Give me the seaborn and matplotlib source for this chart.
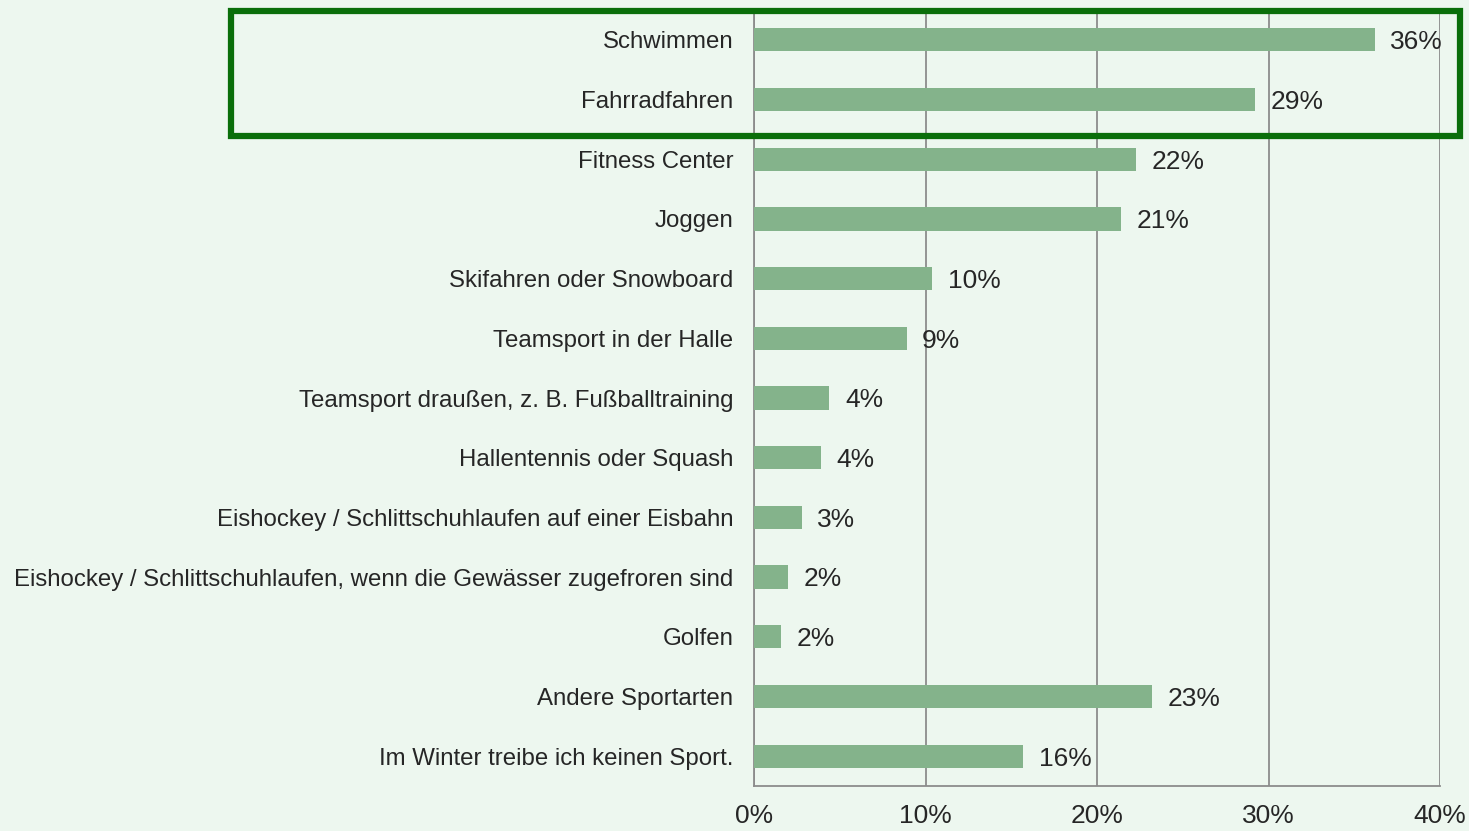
import numpy as np
import pandas as pd
import matplotlib
matplotlib.use("Agg")
import matplotlib.pyplot as plt
import seaborn as sns
from matplotlib.patches import Rectangle
from matplotlib.ticker import FixedLocator, PercentFormatter

# ---------------------------------------------------------------
# Data
# ---------------------------------------------------------------
activities = [
    "Schwimmen",
    "Fahrradfahren",
    "Fitness Center",
    "Joggen",
    "Skifahren oder Snowboard",
    "Teamsport in der Halle",
    "Teamsport draußen, z. B. Fußballtraining",
    "Hallentennis oder Squash",
    "Eishockey / Schlittschuhlaufen auf einer Eisbahn",
    "Eishockey / Schlittschuhlaufen, wenn die Gewässer zugefroren sind",
    "Golfen",
    "Andere Sportarten",
    "Im Winter treibe ich keinen Sport.",
]
share = [36.2, 29.2, 22.3, 21.4, 10.4, 8.9, 4.4, 3.9, 2.8, 2.0, 1.6, 23.2, 15.7]
x_ticks = [0, 10, 20, 30, 40]

df = pd.DataFrame({"Aktivitaet": activities, "Anteil": share})

BG = "#edf7ef"
BAR = "#84b38b"
GRID = "#8c8c8c"
TEXT = "#262626"
FRAME = "#0a6e0a"
FS = 17.3      # category labels
FS_NUM = 19    # percentages

sns.set_style("white")
plt.rcParams["font.family"] = ["Liberation Sans", "DejaVu Sans"]

fig = plt.figure(figsize=(14.69, 8.31), dpi=100, facecolor=BG)
ax = fig.add_axes([754 / 1469, 45 / 831, 686 / 1469, 776 / 831])
ax.set_facecolor(BG)

sns.barplot(data=df, y="Aktivitaet", x="Anteil", color=BAR, width=0.39,
            saturation=1, orient="h", linewidth=0, ax=ax, zorder=3)

ax.set_xlim(0, 40)
ax.set_ylim(len(activities) - 0.5, -0.5)
ax.set_xticks(x_ticks)
ax.xaxis.set_major_formatter(PercentFormatter(decimals=0))
ax.set_xlabel("")
ax.set_ylabel("")

ax.grid(axis="x", color=GRID, linewidth=1.3, zorder=0)
ax.set_axisbelow(True)
for side in ["top", "right"]:
    ax.spines[side].set_visible(False)
for side in ["left", "bottom"]:
    ax.spines[side].set_color(GRID)
    ax.spines[side].set_linewidth(1.3)

ax.tick_params(axis="y", which="major", length=0, pad=15, labelsize=FS, labelcolor=TEXT)
ax.yaxis.set_minor_locator(FixedLocator(np.arange(-0.5, len(activities), 1.0)))
ax.tick_params(axis="y", which="minor", length=6, width=1.3, color=GRID, direction="out")
ax.tick_params(axis="x", which="major", length=6, width=1.3, color=GRID, direction="out",
               labelsize=FS_NUM, labelcolor=TEXT, pad=7)

for i, v in enumerate(share):
    ax.text(v + 0.9, i + 0.04, f"{round(v):.0f}%", va="center", ha="left",
            fontsize=FS_NUM, color=TEXT, zorder=4)

# highlight frame around the top two answers
fig.patches.append(Rectangle((231 / 1469, 1 - 136 / 831), (1460 - 231) / 1469, 125 / 831,
                             transform=fig.transFigure, fill=False,
                             edgecolor=FRAME, linewidth=4.5, zorder=10))

fig.savefig("out.png", dpi=100, facecolor=BG)
